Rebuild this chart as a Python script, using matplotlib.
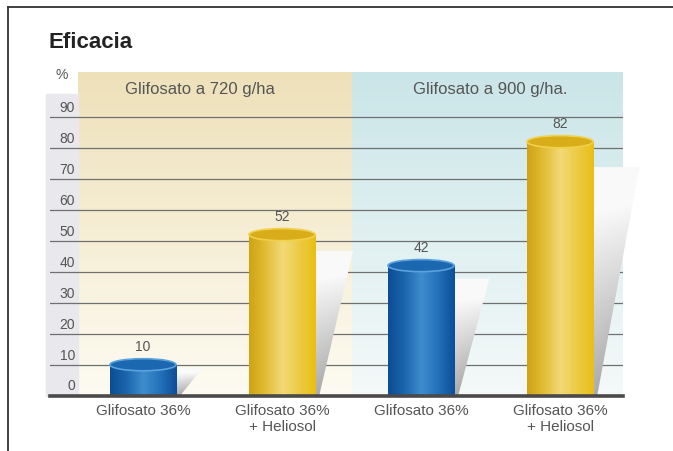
#!/usr/bin/env python
# -*- coding: utf-8 -*-

import numpy as np
import matplotlib
matplotlib.use("Agg")
import matplotlib.pyplot as plt
from matplotlib.colors import LinearSegmentedColormap
from matplotlib.patches import Ellipse, Polygon, Rectangle
from matplotlib.lines import Line2D

plt.rcParams['font.family'] = ['Liberation Sans', 'DejaVu Sans']

# data
categories = ["Glifosato 36%", "Glifosato 36%\n+ Heliosol",
              "Glifosato 36%", "Glifosato 36%\n+ Heliosol"]
values = [10, 52, 42, 82]
products = ["solo", "heliosol", "solo", "heliosol"]
groups = ["Glifosato a 720 g/ha", "Glifosato a 900 g/ha."]
yticks = list(range(0, 100, 10))

# cylinder colours
body_cmaps = {
    "solo": LinearSegmentedColormap.from_list(
        "blue", ["#0c4d93", "#1c66ae", "#3f8ccd", "#2371b9", "#0b4f98"]),
    "heliosol": LinearSegmentedColormap.from_list(
        "yellow", ["#cfa314", "#e2bd35", "#f3d978", "#eccb45", "#e9bf14"]),
}
top_colors = {"solo": ("#1b67b0", "#5aa2dc"),
              "heliosol": ("#d9ad1a", "#f1d04a")}
panel_cmaps = [
    LinearSegmentedColormap.from_list("beige", ["#fdfbf2", "#f6eed5", "#eee1ba"]),
    LinearSegmentedColormap.from_list("cyan", ["#f4f9f9", "#e0f0f1", "#cae5e8"]),
]
text_color = "#555555"

if __name__ == '__main__':
    fig = plt.figure(figsize=(6.73, 4.52), dpi=100)
    ax = fig.add_axes([50 / 673, 1 - 396.7 / 452, 573 / 673, 323.7 / 452])
    ymax = 104.5
    x = np.arange(len(values))
    w = 0.475

    # background panels (one per dose group)
    edges = [-0.468, 1.504, 3.453]
    grad = np.linspace(0, 1, 200)[:, None]
    for i in range(len(groups)):
        ax.imshow(grad, extent=[edges[i], edges[i + 1], 0, ymax], origin='lower',
                  cmap=panel_cmaps[i], aspect='auto', zorder=0)
    ax.add_patch(Rectangle((-0.698, 0), 0.228, 97.5, color="#e8e8ed",
                           clip_on=False, zorder=0.2))

    # grid + y labels
    ax.set_yticks(yticks)
    ax.set_yticklabels([])
    ax.yaxis.grid(True, color="#707070", lw=0.9)
    ax.set_axisbelow(True)
    ax.tick_params(axis='y', length=0)
    for v in yticks:
        ax.text(-0.489, v + 3.3, str(v), ha='right', va='center',
                fontsize=10, color=text_color, clip_on=False)
    ax.text(-0.583, 103.9, "%", ha='center', va='center', fontsize=10,
            color=text_color, clip_on=False)

    # group headers
    for xc, g in zip([0.41, 2.5], groups):
        ax.text(xc, 99.3, g, ha='center', va='center', fontsize=12, color=text_color)

    # cylinders with shadows
    u, t = np.meshgrid(np.linspace(0, 1, 80), np.linspace(0, 1, 80))
    gray = 0.62 + 0.36 * np.clip(1.05 * t + 0.15 - 0.3 * u * (1 - t), 0, 1)
    shade = np.dstack([gray, gray, gray])
    for xi, v, p in zip(x, values, products):
        right = xi + w / 2
        top = v * 0.9
        sw = 0.17 + 0.002 * v
        poly = Polygon([(right, 0), (right, top), (right + sw, top), (right + 0.03, 0)],
                       closed=True, facecolor='none', edgecolor='none')
        ax.add_patch(poly)
        im = ax.imshow(shade, extent=[right, right + sw, 0, top], origin='lower',
                       aspect='auto', zorder=1.5)
        im.set_clip_path(poly)
        im.set_clip_box(fig.bbox)

        ax.imshow(np.linspace(0, 1, 200)[None, :], extent=[xi - w / 2, right, 0, v],
                  cmap=body_cmaps[p], aspect='auto', zorder=3)
        face, rim = top_colors[p]
        ax.add_patch(Ellipse((xi, v), w, 3.9, facecolor=face, edgecolor=rim,
                             lw=1.2, zorder=4))
        ax.text(xi, v + 6.0, str(v), ha='center', va='center', fontsize=10,
                color=text_color)

    ax.axhline(0, color="#4a4a4a", lw=2.6, zorder=5, clip_on=False)

    ax.set_xticks(x, categories)
    ax.tick_params(axis='x', length=0, pad=5, labelsize=11, labelcolor=text_color)
    for lab in ax.get_xticklabels():
        lab.set_linespacing(1.25)
    for s in ax.spines.values():
        s.set_visible(False)
    ax.set_xlim(-0.669, 3.453)
    ax.set_ylim(0, ymax)

    # title and frame
    fig.text(48 / 673, 1 - 42 / 452, "Eficacia", fontsize=16, fontweight='bold',
             va='center', color="#222222")
    fig.add_artist(Line2D([8 / 673, 1], [1 - 8 / 452] * 2, transform=fig.transFigure,
                          color="#333333", lw=1.3))
    fig.add_artist(Line2D([8 / 673] * 2, [0, 1 - 8 / 452], transform=fig.transFigure,
                          color="#333333", lw=1.3))

    fig.savefig("out.png", dpi=100)
